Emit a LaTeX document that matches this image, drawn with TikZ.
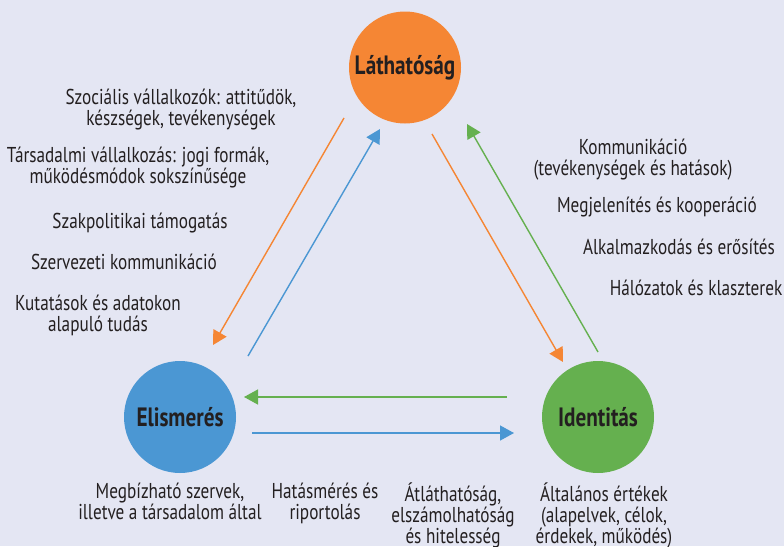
\documentclass[tikz,border=0pt]{standalone}
\usepackage{fontspec}
\setmainfont[FakeStretch=0.8]{PT Sans}
\usetikzlibrary{arrows.meta}
\usepackage{xcolor}
\definecolor{bgc}{HTML}{E4E6F3}
\definecolor{orng}{HTML}{F58634}
\definecolor{blu}{HTML}{4B97D3}
\definecolor{grn}{HTML}{65B04F}
\definecolor{ink}{HTML}{231F20}

\begin{document}
\begin{tikzpicture}[x=1pt,y=-1pt,
  ball/.style={circle, minimum size=112pt, inner sep=0, text=ink, font=\fontsize{26.5}{28}\selectfont\bfseries},
  lbl/.style={align=center, text=ink, inner sep=0, font=\fontsize{21.5}{21}\selectfont},
  arr/.style={line width=1.4pt, -{Triangle[length=14pt,width=15pt]}}]
\fill[bgc] (0,0) rectangle (784,546);
\useasboundingbox (0,0) rectangle (784,546);
% circles
\node[ball, fill=orng] (lat) at (405,67.5) {Láthatóság};
\node[ball, fill=blu] (eli) at (180,417) {Elismerés};
\node[ball, fill=grn] (ide) at (598,417) {Identitás};
% arrow ends
\coordinate (o1) at (344,118);  \coordinate (o2) at (213,345);
\coordinate (b1) at (248,356);  \coordinate (b2) at (380,129);
\coordinate (o3) at (432,134);  \coordinate (o4) at (563,362);
\coordinate (g1) at (598,352);  \coordinate (g2) at (467,124);
\coordinate (g3) at (507,397);  \coordinate (g4) at (244,397);
\coordinate (b3) at (252,433);  \coordinate (b4) at (514,433);
\draw[arr, orng] (o1) -- (o2);
\draw[arr, blu] (b1) -- (b2);
\draw[arr, orng] (o3) -- (o4);
\draw[arr, grn] (g1) -- (g2);
\draw[arr, grn] (g3) -- (g4);
\draw[arr, blu] (b3) -- (b4);
% texts left
\foreach \n/\x/\y/\t in {l1/181/110/{Szociális vállalkozók: attitűdök,\\készségek, tevékenységek},
  l2/138/168/{Társadalmi vállalkozás: jogi formák,\\működésmódok sokszínűsége},
  l3/140/223/{Szakpolitikai támogatás},
  l4/124/262/{Szervezeti kommunikáció},
  l5/98/315/{Kutatások és adatokon\\alapuló tudás}}
  \node[lbl] (\n) at (\x,\y) {\t};
% texts right
\foreach \n/\x/\y/\t in {r1/633/160/{Kommunikáció\\(tevékenységek és hatások)},
  r2/657/207/{Megjelenítés és kooperáció},
  r3/679/247/{Alkalmazkodás és erősítés},
  r4/696/288/{Hálózatok és klaszterek}}
  \node[lbl] (\n) at (\x,\y) {\t};
% texts bottom
\node[lbl, anchor=north] (d1) at (170,483) {Megbízható szervek,\\illetve a társadalom által};
\node[lbl, anchor=north] (d2) at (325,483) {Hatásmérés és\\riportolás};
\node[lbl, anchor=north] (d3) at (453,483) {Átláthatóság,\\elszámolhatóság\\és hitelesség};
\node[lbl, anchor=north] (d4) at (604,483) {Általános értékek\\(alapelvek, célok,\\érdekek, működés)};
\end{tikzpicture}
\end{document}
